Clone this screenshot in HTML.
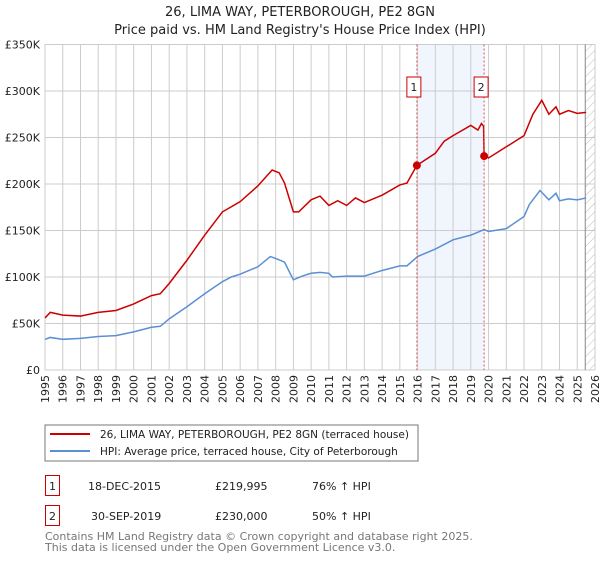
<!DOCTYPE html>
<html><head><meta charset="utf-8"><style>
body{margin:0;background:#fff;font-family:"Liberation Sans","DejaVu Sans",sans-serif}
svg text{font-family:"DejaVu Sans","Liberation Sans",sans-serif}
</style></head><body>
<svg id="c" width="600" height="560" xmlns="http://www.w3.org/2000/svg">
<text x="300" y="16" text-anchor="middle" font-size="13" fill="#222">26, LIMA WAY, PETERBOROUGH, PE2 8GN</text>
<text x="300" y="34" text-anchor="middle" font-size="13" fill="#222">Price paid vs. HM Land Registry's House Price Index (HPI)</text>
<g id="grid"></g><g id="marks"></g>
<rect x="45" y="425" width="373" height="36" fill="#fff" stroke="#777"/>
<line x1="50" y1="434" x2="90" y2="434" stroke="#cc0000" stroke-width="2"/>
<text x="100" y="438" font-size="10.5" fill="#222">26, LIMA WAY, PETERBOROUGH, PE2 8GN (terraced house)</text>
<line x1="50" y1="451" x2="90" y2="451" stroke="#5b8fd4" stroke-width="2"/>
<text x="100" y="455" font-size="10.5" fill="#222">HPI: Average price, terraced house, City of Peterborough</text>
<g font-size="11" fill="#222">
<rect x="45.5" y="475.5" width="14" height="20" fill="none" stroke="#cc0000"/>
<text x="52.5" y="490" text-anchor="middle">1</text>
<text x="88" y="490">18-DEC-2015</text>
<text x="215" y="490">£219,995</text>
<text x="312" y="490">76% ↑ HPI</text>
<rect x="45.5" y="505.5" width="14" height="20" fill="none" stroke="#cc0000"/>
<text x="52.5" y="520" text-anchor="middle">2</text>
<text x="91" y="520">30-SEP-2019</text>
<text x="215" y="520">£230,000</text>
<text x="312" y="520">50% ↑ HPI</text>
</g>
<text x="45" y="540" font-size="11" fill="#777">Contains HM Land Registry data © Crown copyright and database right 2025.</text>
<text x="45" y="551" font-size="11" fill="#777">This data is licensed under the Open Government Licence v3.0.</text>
</svg>
<script>
const yearTicks=[1995,1996,1997,1998,1999,2000,2001,2002,2003,2004,2005,2006,2007,2008,2009,2010,2011,2012,2013,2014,2015,2016,2017,2018,2019,2020,2021,2022,2023,2024,2025,2026];
const valueTicks=[0,50000,100000,150000,200000,250000,300000,350000];
const valueTickLabels=["£0","£50K","£100K","£150K","£200K","£250K","£300K","£350K"];
const hpiDates=[1995,1995.3,1996,1997,1998,1999,2000,2001,2001.5,2002,2003,2004,2005,2005.5,2006,2007,2007.7,2008,2008.5,2009,2009.5,2010,2010.5,2011,2011.2,2012,2013,2014,2015,2015.4,2016,2017,2018,2019,2019.5,2019.75,2020,2021,2022,2022.3,2022.9,2023.4,2023.8,2024,2024.5,2025,2025.5];
const hpiValues=[33000,35000,33000,34000,36000,37000,41000,46000,47000,55000,68000,82000,95000,100000,103000,111000,122000,120000,116000,97000,101000,104000,105000,104000,100000,101000,101000,107000,112000,112000,122000,130000,140000,145000,149000,151000,149000,152000,165000,178000,193000,183000,190000,182000,184000,183000,185000];
const priceDates=[1995,1995.3,1996,1997,1998,1999,2000,2001,2001.5,2002,2003,2004,2005,2006,2007,2007.8,2008.2,2008.5,2009,2009.3,2010,2010.5,2011,2011.5,2012,2012.5,2013,2014,2015,2015.4,2015.96,2017,2017.5,2018,2019,2019.4,2019.6,2019.72,2019.75,2020,2021,2022,2022.5,2023,2023.4,2023.8,2024,2024.5,2025,2025.5];
const priceValues=[56000,62000,59000,58000,62000,64000,71000,80000,82000,93000,118000,145000,170000,181000,198000,215000,212000,201000,170000,170000,183000,187000,177000,182000,177000,185000,180000,188000,199000,201000,219995,233000,246000,252000,263000,258000,265000,262000,230000,228000,240000,252000,275000,290000,275000,283000,275000,279000,276000,277000];
const saleDates=[2015.96,2019.75];
const salePrices=[219995,230000];
const saleLabels=["1","2"];
const NS="http://www.w3.org/2000/svg";
const X0=45,X1=595,Y0=370,Y1=44.5;
const xs=t=>X0+(t-1995)/(2026-1995)*(X1-X0);
const ys=v=>Y0-v/350000*(Y0-Y1);
function mk(p,tag,a){const e=document.createElementNS(NS,tag);for(const k in a)e.setAttribute(k,a[k]);p.appendChild(e);return e;}
const g=document.getElementById('grid'),m=document.getElementById('marks');
const band=mk(g,'rect',{x:xs(saleDates[0]),y:Y1,width:xs(saleDates[1])-xs(saleDates[0]),height:Y0-Y1,fill:'#eef3fc',opacity:0.8});


yearTicks.forEach(t=>{
 const l=mk(g,'line',{x1:xs(t),x2:xs(t),y1:Y1,y2:Y0,stroke:'#ccc'});
 
 
 const tx=mk(g,'text',{transform:`translate(${xs(t)+4},${Y0+5}) rotate(-90)`,'text-anchor':'end','font-size':'11',fill:'#222'});
 tx.textContent=t;
 
 
});
valueTicks.forEach((v,i)=>{
 const l=mk(g,'line',{x1:X0,x2:X1,y1:ys(v),y2:ys(v),stroke:'#ccc'});
 
 
 const tx=mk(g,'text',{x:X0-5,y:ys(v)+4,'text-anchor':'end','font-size':'11',fill:'#222'});
 tx.textContent=valueTickLabels[i];
 
 
});
const defs=mk(g,'defs',{});
const pat=mk(defs,'pattern',{id:'h',width:6,height:6,patternUnits:'userSpaceOnUse',patternTransform:'rotate(45)'});
mk(pat,'line',{x1:0,y1:0,x2:0,y2:6,stroke:'#bbb','stroke-width':1});
const hx=xs(2025.45);
const hat=mk(g,'rect',{x:hx,y:Y1,width:X1-hx,height:Y0-Y1,fill:'url(#h)'});


const hl=mk(g,'line',{x1:hx,x2:hx,y1:Y1,y2:Y0,stroke:'#888'});


const hp=mk(m,'polyline',{points:hpiDates.map((t,i)=>xs(t)+','+ys(hpiValues[i])).join(' '),fill:'none',stroke:'#5b8fd4','stroke-width':1.5});


const pp=mk(m,'polyline',{points:priceDates.map((t,i)=>xs(t)+','+ys(priceValues[i])).join(' '),fill:'none',stroke:'#cc0000','stroke-width':1.5});


saleDates.forEach((t,i)=>{
 const v=mk(m,'line',{x1:xs(t),x2:xs(t),y1:Y1,y2:Y0,stroke:'#e05050','stroke-dasharray':'2,2'});
 
 
 const c=mk(m,'circle',{cx:xs(t),cy:ys(salePrices[i]),r:4,fill:'#cc0000'});
 
 
 const b=mk(m,'rect',{x:xs(t)-10,y:77,width:14,height:20,fill:'#fff',stroke:'#cc0000'});
 
 
 const tx=mk(m,'text',{x:xs(t)-3,y:91,'text-anchor':'middle','font-size':'11',fill:'#222'});
 tx.textContent=saleLabels[i];
 
 
});
</script>
</body></html>
